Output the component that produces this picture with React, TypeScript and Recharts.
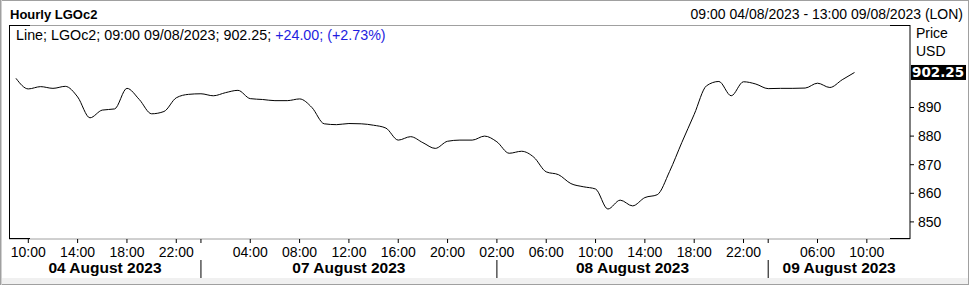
import React from 'react';
import { LineChart, Line, XAxis, YAxis, ReferenceLine } from 'recharts';

const FONT = '"Liberation Sans", Arial, sans-serif';
const GRID = '#a0a0a0';

// days shown on the axis, and the hourly bars in each (London time)
const dayNames = ['04 August 2023', '07 August 2023', '08 August 2023', '09 August 2023'];
const aug04Hours = [9, 10, 11, 12, 13, 14, 15, 16, 17, 18, 19, 20, 21, 22, 23];
const aug07Hours = [0, 1, 2, 3, 4, 5, 6, 7, 8, 9, 10, 11, 12, 13, 14, 15, 16, 17, 18, 19, 20, 21, 22, 23];
const aug08Hours = [2, 3, 4, 5, 6, 7, 8, 9, 10, 11, 12, 13, 14, 15, 16, 17, 18, 19, 20, 21, 22, 23];
const aug09Hours = [2, 3, 4, 5, 6, 7, 8, 9, 10, 11, 12, 13];

// LGOc2 hourly close, USD
const aug04Close = [900.2, 896.5, 897.3, 896.7, 897.4, 893.7, 886.4, 889.1, 889.5, 896.7, 892.8, 887.8, 888.6, 893.4, 894.6];
const aug07Close = [
  894.8, 894.1, 895.2, 896.0, 893.1, 892.8, 892.4, 892.4, 893.0, 890.0, 884.3, 884.0,
  884.4, 884.3, 883.8, 882.8, 878.6, 879.8, 877.7, 875.7, 878.2, 878.6, 878.6, 880.0,
];
const aug08Close = [
  878.0, 874.0, 874.7, 872.6, 867.5, 866.5, 863.4, 862.3, 861.5, 854.5, 857.6,
  855.6, 858.5, 859.5, 867.6, 877.8, 887.6, 897.6, 899.1, 894.1, 899.0, 898.2,
];
const aug09Close = [896.6, 896.7, 896.7, 896.8, 898.5, 897.0, 899.7, 902.25];

// labelled hours on the time axis, per day
const labelHours = [[10, 14, 18, 22], [4, 8, 12, 16, 20], [2, 6, 10, 14, 18, 22], [6, 10]];
const priceTicks = [850, 860, 870, 880, 890];

const lastClose = 902.25;
const legendPlain = 'Line; LGOc2; 09:00 09/08/2023; 902.25; ';
const legendChange = '+24.00; (+2.73%)';

const X_MIN = -0.565;
const X_MAX = 72.5;

const dayHours = [aug04Hours, aug07Hours, aug08Hours, aug09Hours];
const dayClose = [aug04Close, aug07Close, aug08Close, aug09Close];

const data: { idx: number; close?: number }[] = [];
const dayStart: number[] = [];
const tickLabel = new Map<number, string>();
dayHours.forEach((hours, d) => {
  dayStart.push(data.length);
  hours.forEach((h, j) => {
    const idx = data.length;
    if (labelHours[d].includes(h)) tickLabel.set(idx, `${String(h).padStart(2, '0')}:00`);
    data.push({ idx, close: dayClose[d][j] });
  });
});
const dividers = dayStart.slice(1);
const timeTicks = Array.from(new Set([...tickLabel.keys(), ...dividers])).sort((a, b) => a - b);
const dayCenters = dayNames.map((_, d) => {
  const s = d === 0 ? X_MIN : dayStart[d];
  const e = d === dayNames.length - 1 ? X_MAX : dayStart[d + 1];
  return (s + e) / 2;
});

const TimeTick = (props: any) => {
  const { x, y, payload } = props;
  const label = tickLabel.get(payload.value);
  return (
    <g>
      {label && (
        <text x={x} y={y} dy="0.71em" textAnchor="middle" fontSize={14} fill="#000" fontFamily={FONT}>
          {label}
        </text>
      )}
      {dividers.includes(payload.value) && <line x1={x} x2={x} y1={y + 13} y2={y + 31} stroke="#000" />}
    </g>
  );
};

const PriceTag = (props: any) => {
  const { viewBox } = props;
  if (!viewBox) return null;
  const x = viewBox.x + viewBox.width + 1;
  const y = viewBox.y;
  return (
    <g>
      <rect x={x} y={y - 7.5} width={55} height={15} fill="#000" />
      <text x={x + 1} y={y + 5} fill="#fff" fontWeight="bold" fontSize={13.5} fontFamily='"DejaVu Sans", Verdana, sans-serif'>
        {lastClose.toFixed(2)}
      </text>
    </g>
  );
};

export default function App() {
  return (
    <div style={{ position: 'absolute', left: 0, top: 0, width: 969, height: 285, background: '#fff', fontFamily: FONT }}>
      <LineChart width={969} height={285} data={data} margin={{ top: 25, right: 0, bottom: 6, left: 9 }}>
        <XAxis
          dataKey="idx"
          type="number"
          domain={[X_MIN, X_MAX]}
          allowDataOverflow
          ticks={timeTicks}
          interval={0}
          height={20}
          tickSize={4}
          tickMargin={4}
          axisLine={{ stroke: GRID }}
          tickLine={{ stroke: '#000' }}
          tick={<TimeTick />}
        />
        <XAxis
          xAxisId="day"
          dataKey="idx"
          type="number"
          domain={[X_MIN, X_MAX]}
          allowDataOverflow
          ticks={dayCenters}
          interval={0}
          height={20}
          tickSize={0}
          tickMargin={3}
          axisLine={false}
          tickLine={false}
          tickFormatter={(v: number) => dayNames[dayCenters.indexOf(v)] ?? ''}
          tick={{ fontSize: 15.5, fontWeight: 'bold', fill: '#000', fontFamily: FONT }}
        />
        <YAxis
          orientation="right"
          type="number"
          domain={[844.02, 918.85]}
          allowDataOverflow
          ticks={priceTicks}
          interval={0}
          width={59}
          tickSize={4}
          tickMargin={4}
          axisLine={{ stroke: '#000' }}
          tickLine={{ stroke: '#000' }}
          tick={{ fontSize: 14, fill: '#000', fontFamily: FONT }}
        />
        <ReferenceLine y={lastClose} stroke="transparent" label={<PriceTag />} />
        <Line
          type="monotone"
          dataKey="close"
          stroke="#000"
          strokeWidth={1}
          dot={false}
          isAnimationActive={false}
        />
      </LineChart>
      <svg
        width={969}
        height={285}
        style={{ position: 'absolute', left: 0, top: 0, pointerEvents: 'none' }}
        fontFamily={FONT}
      >
        <rect x={0} y={278} width={969} height={7} fill="#f0f0f0" />
        <rect x={0.5} y={0.5} width={968} height={284} fill="none" stroke={GRID} />
        <line x1={1.5} x2={1.5} y1={0} y2={285} stroke="#d0d0d0" />
        <text x={10} y={19} fontSize={13} fontWeight="bold" fill="#000">Hourly LGOc2</text>
        <text x={963} y={18.5} fontSize={14} textAnchor="end" fill="#000">
          09:00 04/08/2023 - 13:00 09/08/2023 (LON)
        </text>
        <line x1={9} x2={910} y1={25.5} y2={25.5} stroke={GRID} />
        <line x1={9} x2={30} y1={25.5} y2={25.5} stroke="#000" />
        <line x1={890} x2={910} y1={25.5} y2={25.5} stroke="#000" />
        <line x1={9.5} x2={9.5} y1={25} y2={239} stroke="#000" />
        <line x1={9} x2={30} y1={238.5} y2={238.5} stroke="#000" />
        <line x1={890} x2={910} y1={238.5} y2={238.5} stroke="#000" />
        <text x={916} y={38} fontSize={14} fill="#000">Price</text>
        <text x={916} y={56} fontSize={14} fill="#000">USD</text>
        <text x={16} y={40} fontSize={14.3} fill="#000">
          {legendPlain}
          <tspan fill="#1e1ee0">{legendChange}</tspan>
        </text>
      </svg>
    </div>
  );
}
